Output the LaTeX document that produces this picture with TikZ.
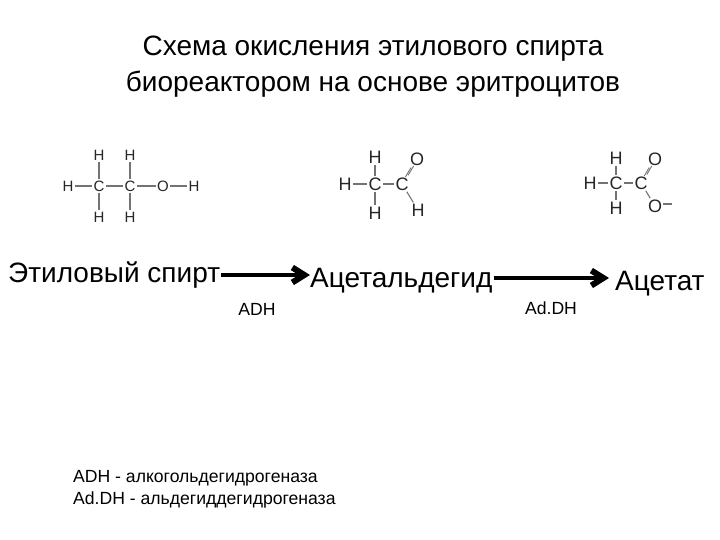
\documentclass[tikz,border=0pt]{standalone}
\usepackage{fontspec}
\setmainfont{Liberation Sans}
\usetikzlibrary{arrows.meta}
\tikzset{
  atom/.style={inner sep=1.2pt,font=\fontsize{#1}{#1}\selectfont,text=black!85},
  atom/.default=15,
  bond/.style={draw=black!55,line width=1.1pt},
  dbond/.style={draw=black!55,line width=0.9pt},
  big/.style={inner sep=0pt,font=\fontsize{28}{28}\selectfont},
  enz/.style={inner sep=0pt,font=\fontsize{17.6}{17.6}\selectfont},
  rxn/.style={line width=4.5pt,-{Straight Barb[length=12pt,width=15pt,line width=6pt]}},
}
\begin{document}
\begin{tikzpicture}[x=1pt,y=-1pt]
\useasboundingbox (0,0) rectangle (720,540);
\node[big] (t1) at (373,48.5) {Схема окисления этилового спирта};
\node[big] (t2) at (373,84) {биореактором на основе эритроцитов};
% ethanol
\node[atom] (e1) at (68,186) {H};
\node[atom] (e2) at (99,186) {C};
\node[atom] (e3) at (130,186) {C};
\node[atom] (e4) at (163,186) {O};
\node[atom] (e5) at (194,186) {H};
\node[atom] (e6) at (99,155) {H};
\node[atom] (e7) at (130,155) {H};
\node[atom] (e8) at (99,217) {H};
\node[atom] (e9) at (130,217) {H};
\draw[bond] (e1)--(e2); \draw[bond] (e2)--(e3); \draw[bond] (e3)--(e4); \draw[bond] (e4)--(e5);
\draw[bond] (e2)--(e6); \draw[bond] (e2)--(e8); \draw[bond] (e3)--(e7); \draw[bond] (e3)--(e9);
% acetaldehyde
\node[atom=18] (a1) at (345,184) {H};
\node[atom=18] (a2) at (375,184) {C};
\node[atom=18] (a3) at (402,184) {C};
\node[atom=18] (a4) at (375,157) {H};
\node[atom=18] (a5) at (375,213) {H};
\node[atom=18] (a6) at (417,159) {O};
\node[atom=18] (a7) at (418,210) {H};
\draw[bond] (a1)--(a2); \draw[bond] (a2)--(a3); \draw[bond] (a2)--(a4); \draw[bond] (a2)--(a5); \draw[bond] (a3)--(a7);
\draw[dbond,transform canvas={xshift=-1.3pt,yshift=-0.8pt}] (a3)--(a6);
\draw[dbond,transform canvas={xshift=1.3pt,yshift=0.8pt}] (a3)--(a6);
% acetate
\node[atom=18] (c1) at (590,183) {H};
\node[atom=18] (c2) at (616,183) {C};
\node[atom=18] (c3) at (641,183) {C};
\node[atom=18] (c4) at (616,158) {H};
\node[atom=18] (c5) at (616,208) {H};
\node[atom=18] (c6) at (655,159) {O};
\node[atom=18] (c7) at (655,206) {O};
\coordinate (c8) at (672,204);
\draw[bond] (c1)--(c2); \draw[bond] (c2)--(c3); \draw[bond] (c2)--(c4); \draw[bond] (c2)--(c5); \draw[bond] (c3)--(c7);
\draw[dbond,transform canvas={xshift=-1.3pt,yshift=-0.8pt}] (c3)--(c6);
\draw[dbond,transform canvas={xshift=1.3pt,yshift=0.8pt}] (c3)--(c6);
\draw[bond] (c7.east |- c8)--(c8);
% reaction
\node[big,anchor=west] (s1) at (8,275) {Этиловый спирт};
\node[big,anchor=west] (s2) at (310,281) {Ацетальдегид};
\node[big,anchor=west] (s3) at (615,283.5) {Ацетат};
\draw[rxn,shorten <=1pt] (s1.east |- 0,275) -- (s2.west |- 0,275);
\draw[rxn,shorten <=1pt,shorten >=6pt] (s2.east |- 0,278) -- (s3.west |- 0,278);
\node[enz] (adh) at (257,309) {ADH};
\node[enz] (addh) at (551,308) {Ad.DH};
\node[enz,anchor=west] (l1) at (73,478.5) {ADH - алкогольдегидрогеназа};
\node[enz,anchor=west] (l2) at (73,499.5) {Ad.DH - альдегиддегидрогеназа};
\end{tikzpicture}
\end{document}
